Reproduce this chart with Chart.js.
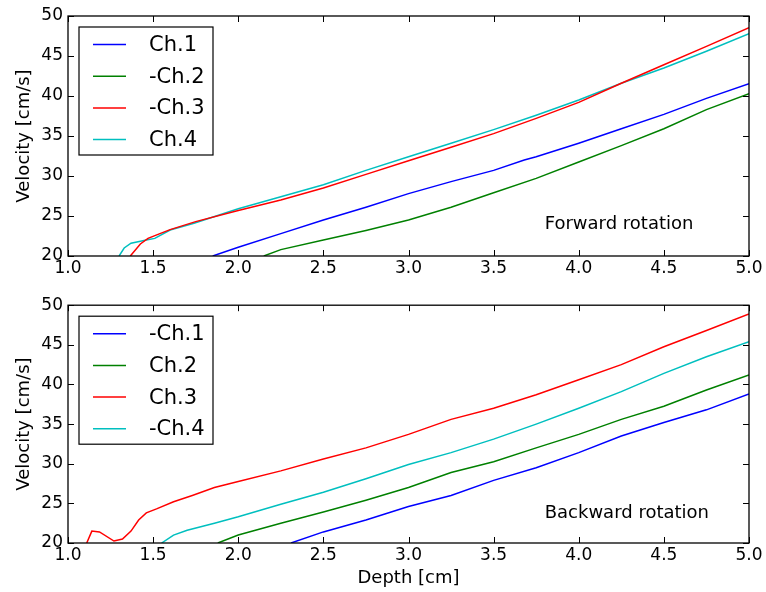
<!DOCTYPE html>
<html>
<head>
<meta charset="utf-8">
<script src="https://cdn.jsdelivr.net/npm/chart.js@4.4.1/dist/chart.umd.min.js"></script>
<style>
  body { margin: 0; background: #fff; }
  #wrap { position: relative; width: 766px; height: 592px; }
  canvas { position: absolute; left: 0; }
  #fwdChart { top: 0; }
  #bwdChart { top: 290px; }
</style>
</head>
<body>
<div id="wrap">
  <canvas id="fwdChart" width="766" height="290"></canvas>
  <canvas id="bwdChart" width="766" height="302"></canvas>
</div>
<script>
// Depth [cm] / velocity [cm/s] pairs, forward rotation
const fwdCh1 = [[1.85,20.0],[2.0,21.1],[2.25,22.8],[2.5,24.5],[2.75,26.1],[3.0,27.8],[3.25,29.3],[3.5,30.7],[3.68,32.0],[3.75,32.4],[4.0,34.1],[4.25,35.9],[4.5,37.7],[4.75,39.7],[5.0,41.55]];
const fwdCh2 = [[2.15,20.0],[2.25,20.8],[2.5,22.0],[2.75,23.2],[3.0,24.5],[3.25,26.1],[3.5,27.9],[3.75,29.7],[4.0,31.75],[4.25,33.8],[4.5,35.9],[4.75,38.3],[5.0,40.3]];
const fwdCh3 = [[1.366,20.0],[1.425,21.5],[1.47,22.2],[1.54,22.8],[1.6,23.3],[1.75,24.3],[2.0,25.7],[2.25,27.0],[2.5,28.5],[2.75,30.2],[3.0,31.9],[3.25,33.6],[3.5,35.3],[3.75,37.2],[4.0,39.2],[4.25,41.6],[4.5,43.9],[4.75,46.2],[5.0,48.55]];
const fwdCh4 = [[1.30,20.0],[1.33,21.0],[1.37,21.6],[1.46,22.0],[1.51,22.2],[1.60,23.25],[1.74,24.1],[2.0,25.9],[2.25,27.4],[2.5,28.9],[2.75,30.7],[3.0,32.4],[3.25,34.1],[3.5,35.8],[3.75,37.6],[4.0,39.5],[4.25,41.6],[4.5,43.5],[4.75,45.6],[5.0,47.8]];

// Backward rotation
const bwdCh1 = [[2.31,20.0],[2.5,21.4],[2.75,22.9],[3.0,24.6],[3.25,26.0],[3.5,27.9],[3.75,29.5],[4.0,31.4],[4.25,33.5],[4.5,35.2],[4.75,36.8],[5.0,38.8]];
const bwdCh2 = [[1.88,20.0],[2.0,21.0],[2.25,22.5],[2.5,23.9],[2.75,25.4],[3.0,27.0],[3.25,28.9],[3.5,30.25],[3.75,32.0],[4.0,33.7],[4.25,35.6],[4.5,37.25],[4.75,39.3],[5.0,41.2]];
const bwdCh3 = [[1.11,20.0],[1.14,21.5],[1.185,21.4],[1.27,20.25],[1.32,20.5],[1.37,21.5],[1.415,22.9],[1.46,23.8],[1.52,24.3],[1.62,25.2],[1.73,26.0],[1.86,27.0],[2.0,27.75],[2.25,29.1],[2.5,30.6],[2.75,32.0],[3.0,33.7],[3.25,35.6],[3.5,37.0],[3.75,38.7],[4.0,40.6],[4.25,42.5],[4.5,44.75],[4.75,46.8],[5.0,48.9]];
const bwdCh4 = [[1.55,20.0],[1.62,21.0],[1.70,21.6],[1.86,22.5],[2.0,23.3],[2.25,24.9],[2.5,26.4],[2.75,28.1],[3.0,29.9],[3.25,31.4],[3.5,33.1],[3.75,35.0],[4.0,37.0],[4.25,39.1],[4.5,41.4],[4.75,43.5],[5.0,45.4]];

const fwdLabels = ['Ch.1', '-Ch.2', '-Ch.3', 'Ch.4'];
const bwdLabels = ['-Ch.1', 'Ch.2', 'Ch.3', '-Ch.4'];
const lineColors = ['#0000ff', '#008000', '#ff0000', '#00bfbf'];

const xTicks = [1.0, 1.5, 2.0, 2.5, 3.0, 3.5, 4.0, 4.5, 5.0];
const yTicks = [20, 25, 30, 35, 40, 45, 50];

const FONT = 'DejaVu Sans';

// frame, inward ticks, legend box and the panel note
const mplFrame = {
    id: 'mplFrame',
    afterDatasetsDraw(chart, args, opts) {
        const ctx = chart.ctx;
        const ca = chart.chartArea;
        const xs = chart.scales.x, ys = chart.scales.y;
        ctx.save();
        ctx.strokeStyle = '#000';
        ctx.lineWidth = 1;
        // ticks on all four sides, pointing in
        const len = 6;
        ctx.beginPath();
        xTicks.forEach(v => {
            const px = Math.round(xs.getPixelForValue(v)) + 0.5;
            ctx.moveTo(px, ca.bottom); ctx.lineTo(px, ca.bottom - len);
            ctx.moveTo(px, ca.top); ctx.lineTo(px, ca.top + len);
        });
        yTicks.forEach(v => {
            const py = Math.round(ys.getPixelForValue(v)) + 0.5;
            ctx.moveTo(ca.left, py); ctx.lineTo(ca.left + len, py);
            ctx.moveTo(ca.right, py); ctx.lineTo(ca.right - len, py);
        });
        ctx.stroke();
        // axes frame
        ctx.lineWidth = 1.3;
        ctx.strokeRect(ca.left, ca.top, ca.right - ca.left, ca.bottom - ca.top);

        // legend
        const bx = ca.left + 11, by = ca.top + 11, bw = 134, bh = 128;
        ctx.fillStyle = '#fff';
        ctx.fillRect(bx, by, bw, bh);
        ctx.lineWidth = 1.2;
        ctx.strokeRect(bx, by, bw, bh);
        ctx.font = '21px "' + FONT + '"';
        ctx.textBaseline = 'middle';
        ctx.textAlign = 'left';
        chart.data.datasets.forEach((ds, i) => {
            const ry = by + 17.5 + i * 31.7;
            ctx.strokeStyle = ds.borderColor;
            ctx.lineWidth = 1.5;
            ctx.beginPath();
            ctx.moveTo(bx + 14, ry); ctx.lineTo(bx + 47, ry);
            ctx.stroke();
            ctx.fillStyle = '#000';
            ctx.fillText(ds.label, bx + 70, ry + 1);
        });

        // panel note
        if (opts.note) {
            ctx.font = '18px "' + FONT + '"';
            ctx.fillStyle = '#000';
            ctx.fillText(opts.note.text, xs.getPixelForValue(opts.note.x), ys.getPixelForValue(opts.note.y));
        }
        ctx.restore();
    }
};

const makeChart = (id, series, labels, note, xTitle, xHeight, padTop) => {
    const ctx = document.getElementById(id).getContext('2d');
    return new Chart(ctx, {
        type: 'line',
        data: {
            datasets: series.map((s, i) => ({
                label: labels[i],
                data: s.map(p => ({ x: p[0], y: p[1] })),
                borderColor: lineColors[i],
                borderWidth: 1.5,
                pointRadius: 0,
                tension: 0,
                fill: false
            }))
        },
        options: {
            responsive: false,
            animation: false,
            layout: { padding: { top: padTop, right: 17, left: 0, bottom: 0 } },
            plugins: {
                legend: { display: false },
                tooltip: { enabled: false },
                mplFrame: { note: note }
            },
            scales: {
                x: {
                    type: 'linear',
                    min: 1, max: 5,
                    afterBuildTicks: s => { s.ticks = xTicks.map(v => ({ value: v })); },
                    afterFit: s => { s.height = xHeight; },
                    grid: { display: false, drawTicks: false },
                    border: { display: false },
                    ticks: {
                        color: '#000',
                        padding: 2,
                        maxRotation: 0,
                        font: { family: FONT, size: 17 },
                        callback: v => v.toFixed(1)
                    },
                    title: {
                        display: !!xTitle,
                        text: xTitle,
                        color: '#000',
                        padding: { top: 0, bottom: 3 },
                        font: { family: FONT, size: 18 }
                    }
                },
                y: {
                    min: 20, max: 50,
                    afterBuildTicks: s => { s.ticks = yTicks.map(v => ({ value: v })); },
                    afterFit: s => { s.width = 68; },
                    grid: { display: false, drawTicks: false },
                    border: { display: false },
                    ticks: {
                        color: '#000',
                        padding: 5,
                        font: { family: FONT, size: 17 },
                        callback: v => String(v)
                    },
                    title: {
                        display: true,
                        text: 'Velocity [cm/s]',
                        color: '#000',
                        padding: { top: 14, bottom: 0 },
                        font: { family: FONT, size: 18 }
                    }
                }
            }
        },
        plugins: [mplFrame]
    });
};

makeChart('fwdChart', [fwdCh1, fwdCh2, fwdCh3, fwdCh4], fwdLabels,
    { text: 'Forward rotation', x: 3.8, y: 23.9 }, '', 34, 16);
makeChart('bwdChart', [bwdCh1, bwdCh2, bwdCh3, bwdCh4], bwdLabels,
    { text: 'Backward rotation', x: 3.8, y: 23.75 }, 'Depth [cm]', 49, 13);
</script>
</body>
</html>
